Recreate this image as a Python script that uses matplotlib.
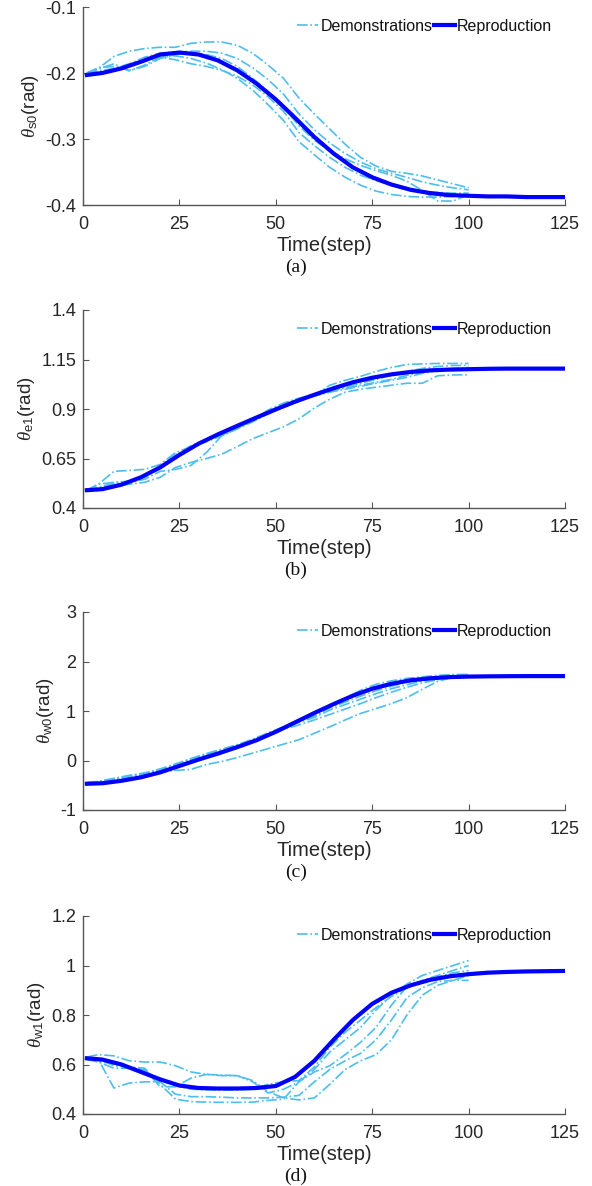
import matplotlib
matplotlib.use("Agg")
import matplotlib.pyplot as plt

plt.rcParams['font.family'] = ['Liberation Sans', 'DejaVu Sans']
plt.rcParams['axes.unicode_minus'] = False
plt.rcParams['mathtext.fontset'] = 'custom'
plt.rcParams['mathtext.rm'] = 'Liberation Sans'
plt.rcParams['mathtext.it'] = 'Liberation Serif:italic'

# ---------------- data ----------------
demo_steps = [1, 4, 8, 12, 16, 20, 24, 28, 32, 36, 40, 44, 48, 52, 56, 60, 64, 68, 72, 76, 80, 84, 88, 92, 96, 100]
repro_steps = [1, 5, 10, 15, 20, 25, 30, 35, 40, 45, 50, 55, 60, 65, 70, 75, 80, 85, 90, 95, 100, 105, 110, 115, 120, 125]

# (a) theta_s0
a_demo1 = [-0.200, -0.193, -0.175, -0.167, -0.163, -0.161, -0.161, -0.155, -0.153, -0.153, -0.158, -0.170, -0.188, -0.208, -0.238, -0.262, -0.285, -0.308, -0.328, -0.341, -0.349, -0.352, -0.356, -0.362, -0.368, -0.374]
a_demo2 = [-0.200, -0.197, -0.193, -0.186, -0.176, -0.170, -0.168, -0.167, -0.167, -0.170, -0.178, -0.192, -0.210, -0.232, -0.262, -0.286, -0.306, -0.322, -0.335, -0.345, -0.352, -0.358, -0.365, -0.370, -0.374, -0.377]
a_demo3 = [-0.200, -0.192, -0.190, -0.196, -0.190, -0.178, -0.172, -0.170, -0.172, -0.178, -0.190, -0.208, -0.228, -0.252, -0.280, -0.302, -0.318, -0.330, -0.340, -0.348, -0.355, -0.364, -0.378, -0.394, -0.394, -0.384]
a_demo4 = [-0.200, -0.194, -0.186, -0.197, -0.188, -0.176, -0.180, -0.186, -0.190, -0.196, -0.205, -0.218, -0.236, -0.258, -0.290, -0.310, -0.328, -0.343, -0.355, -0.363, -0.370, -0.375, -0.379, -0.381, -0.382, -0.382]
a_demo5 = [-0.200, -0.199, -0.195, -0.189, -0.182, -0.176, -0.174, -0.178, -0.185, -0.195, -0.208, -0.226, -0.248, -0.272, -0.304, -0.324, -0.343, -0.358, -0.370, -0.379, -0.384, -0.387, -0.388, -0.388, -0.387, -0.386]
a_repro = [-0.203, -0.200, -0.193, -0.183, -0.172, -0.169, -0.172, -0.181, -0.196, -0.216, -0.240, -0.268, -0.297, -0.322, -0.343, -0.358, -0.369, -0.377, -0.382, -0.385, -0.386, -0.387, -0.387, -0.388, -0.388, -0.388]

# (b) theta_e1
b_demo1 = [0.49, 0.52, 0.585, 0.59, 0.595, 0.62, 0.68, 0.71, 0.735, 0.765, 0.80, 0.835, 0.875, 0.91, 0.94, 0.97, 1.02, 1.045, 1.065, 1.09, 1.11, 1.125, 1.128, 1.13, 1.13, 1.13]
b_demo2 = [0.49, 0.495, 0.51, 0.52, 0.53, 0.555, 0.605, 0.63, 0.65, 0.672, 0.71, 0.75, 0.78, 0.81, 0.85, 0.905, 0.95, 0.985, 1.0, 1.01, 1.02, 1.03, 1.03, 1.068, 1.072, 1.073]
b_demo3 = [0.49, 0.50, 0.52, 0.53, 0.545, 0.585, 0.595, 0.615, 0.68, 0.765, 0.80, 0.84, 0.88, 0.915, 0.945, 0.965, 0.985, 1.0, 1.015, 1.03, 1.045, 1.06, 1.08, 1.095, 1.105, 1.11]
b_demo4 = [0.49, 0.52, 0.53, 0.535, 0.555, 0.60, 0.665, 0.715, 0.745, 0.775, 0.815, 0.85, 0.89, 0.925, 0.95, 0.97, 0.99, 1.005, 1.02, 1.035, 1.05, 1.07, 1.085, 1.095, 1.098, 1.098]
b_demo5 = [0.49, 0.505, 0.525, 0.535, 0.56, 0.615, 0.67, 0.705, 0.74, 0.77, 0.805, 0.845, 0.895, 0.93, 0.955, 0.975, 0.995, 1.01, 1.03, 1.05, 1.07, 1.09, 1.105, 1.115, 1.12, 1.12]
b_repro = [0.49, 0.495, 0.518, 0.555, 0.605, 0.668, 0.725, 0.772, 0.815, 0.857, 0.898, 0.937, 0.972, 1.005, 1.035, 1.058, 1.075, 1.087, 1.095, 1.099, 1.101, 1.103, 1.104, 1.104, 1.104, 1.104]

# (c) theta_w0
c_demo1 = [-0.45, -0.43, -0.37, -0.31, -0.26, -0.18, -0.08, 0.02, 0.12, 0.21, 0.30, 0.40, 0.53, 0.66, 0.80, 0.95, 1.10, 1.26, 1.42, 1.54, 1.61, 1.66, 1.69, 1.72, 1.735, 1.74]
c_demo2 = [-0.45, -0.44, -0.38, -0.32, -0.27, -0.19, -0.09, 0.03, 0.13, 0.22, 0.31, 0.42, 0.55, 0.67, 0.77, 0.87, 1.02, 1.13, 1.24, 1.35, 1.45, 1.53, 1.61, 1.66, 1.70, 1.72]
c_demo3 = [-0.46, -0.44, -0.39, -0.33, -0.28, -0.20, -0.10, 0.01, 0.11, 0.20, 0.29, 0.40, 0.52, 0.63, 0.72, 0.82, 0.93, 1.04, 1.15, 1.27, 1.38, 1.48, 1.57, 1.63, 1.68, 1.70]
c_demo4 = [-0.45, -0.42, -0.36, -0.30, -0.25, -0.17, -0.07, 0.04, 0.14, 0.23, 0.32, 0.43, 0.56, 0.68, 0.79, 0.90, 1.06, 1.18, 1.30, 1.41, 1.50, 1.58, 1.64, 1.68, 1.70, 1.71]
c_demo5 = [-0.45, -0.44, -0.38, -0.33, -0.28, -0.23, -0.20, -0.18, -0.08, -0.02, 0.06, 0.15, 0.24, 0.33, 0.42, 0.55, 0.68, 0.82, 0.95, 1.05, 1.15, 1.27, 1.44, 1.60, 1.68, 1.72]
c_repro = [-0.47, -0.46, -0.41, -0.34, -0.24, -0.11, 0.02, 0.14, 0.27, 0.41, 0.58, 0.77, 0.96, 1.14, 1.31, 1.45, 1.55, 1.62, 1.66, 1.685, 1.695, 1.70, 1.703, 1.705, 1.705, 1.705]

# (d) theta_w1
d_demo1 = [0.63, 0.64, 0.635, 0.615, 0.61, 0.61, 0.595, 0.57, 0.56, 0.557, 0.555, 0.535, 0.49, 0.465, 0.457, 0.465, 0.52, 0.58, 0.615, 0.64, 0.70, 0.80, 0.88, 0.92, 0.94, 0.96]
d_demo2 = [0.63, 0.62, 0.505, 0.525, 0.53, 0.53, 0.48, 0.47, 0.47, 0.468, 0.465, 0.465, 0.465, 0.468, 0.475, 0.53, 0.58, 0.615, 0.645, 0.70, 0.78, 0.87, 0.91, 0.935, 0.94, 0.94]
d_demo3 = [0.63, 0.625, 0.595, 0.59, 0.585, 0.52, 0.46, 0.45, 0.448, 0.447, 0.447, 0.448, 0.455, 0.46, 0.53, 0.57, 0.595, 0.64, 0.69, 0.75, 0.84, 0.915, 0.94, 0.96, 0.98, 1.0]
d_demo4 = [0.625, 0.615, 0.60, 0.59, 0.575, 0.54, 0.515, 0.50, 0.498, 0.497, 0.497, 0.50, 0.52, 0.53, 0.535, 0.59, 0.67, 0.73, 0.78, 0.83, 0.875, 0.91, 0.935, 0.955, 0.97, 0.98]
d_demo5 = [0.62, 0.61, 0.585, 0.585, 0.58, 0.51, 0.51, 0.545, 0.56, 0.555, 0.555, 0.53, 0.485, 0.50, 0.53, 0.58, 0.65, 0.70, 0.75, 0.82, 0.88, 0.925, 0.96, 0.98, 1.0, 1.02]
d_repro = [0.625, 0.62, 0.60, 0.57, 0.54, 0.515, 0.505, 0.503, 0.503, 0.505, 0.513, 0.55, 0.615, 0.70, 0.78, 0.845, 0.89, 0.92, 0.942, 0.956, 0.965, 0.971, 0.974, 0.976, 0.977, 0.978]

panels = [
    dict(demos=[a_demo1, a_demo2, a_demo3, a_demo4, a_demo5], repro=a_repro,
         ylim=(-0.4, -0.1), yticks=[-0.4, -0.3, -0.2, -0.1], yticklabels=['-0.4', '-0.3', '-0.2', '-0.1'],
         ylabel=r'$\theta_{\mathrm{s0}}$(rad)', caption='(a)'),
    dict(demos=[b_demo1, b_demo2, b_demo3, b_demo4, b_demo5], repro=b_repro,
         ylim=(0.4, 1.4), yticks=[0.4, 0.65, 0.9, 1.15, 1.4], yticklabels=['0.4', '0.65', '0.9', '1.15', '1.4'],
         ylabel=r'$\theta_{\mathrm{e1}}$(rad)', caption='(b)'),
    dict(demos=[c_demo1, c_demo2, c_demo3, c_demo4, c_demo5], repro=c_repro,
         ylim=(-1, 3), yticks=[-1, 0, 1, 2, 3], yticklabels=['-1', '0', '1', '2', '3'],
         ylabel=r'$\theta_{\mathrm{w0}}$(rad)', caption='(c)'),
    dict(demos=[d_demo1, d_demo2, d_demo3, d_demo4, d_demo5], repro=d_repro,
         ylim=(0.4, 1.2), yticks=[0.4, 0.6, 0.8, 1.0, 1.2], yticklabels=['0.4', '0.6', '0.8', '1', '1.2'],
         ylabel=r'$\theta_{\mathrm{w1}}$(rad)', caption='(d)'),
]
xticks = [0, 25, 50, 75, 100, 125]

# ---------------- layout ----------------
W, H = 592, 1186
fig = plt.figure(figsize=(W / 100, H / 100), dpi=100)
left_px, right_px = 83, 565
tops_px = [7, 310, 612, 916]
ax_h_px = 198

demo_color = '#4DBEEE'
repro_color = '#0000FF'
axis_color = '#262626'

for p, top in zip(panels, tops_px):
    bottom = H - top - ax_h_px
    ax = fig.add_axes([left_px / W, bottom / H, (right_px - left_px) / W, ax_h_px / H])
    for i, d in enumerate(p['demos']):
        ax.plot(demo_steps, d, linestyle='-.', color=demo_color, lw=1.2,
                label='Demonstrations' if i == 0 else None)
    ax.plot(repro_steps, p['repro'], color=repro_color, lw=3.0, label='Reproduction')
    ax.set_xlim(0, 125)
    ax.set_ylim(*p['ylim'])
    ax.set_xticks(xticks)
    ax.set_xticklabels([str(t) for t in xticks])
    ax.set_yticks(p['yticks'])
    ax.set_yticklabels(p['yticklabels'])
    for s in ['top', 'right']:
        ax.spines[s].set_visible(False)
    for s in ['left', 'bottom']:
        ax.spines[s].set_color('#555555')
        ax.spines[s].set_linewidth(1.0)
    ax.tick_params(direction='in', length=4, width=0.8, colors='#555555',
                   labelcolor=axis_color, labelsize=13)
    ax.tick_params(axis='x', pad=8)
    ax.tick_params(axis='y', pad=5)
    ax.set_xlabel('Time(step)', fontsize=14.5, color=axis_color, labelpad=2)
    ax.set_ylabel(p['ylabel'], fontsize=13.5, color=axis_color, labelpad=3)
    leg = ax.legend(loc='upper right', ncol=2, frameon=False, fontsize=11.5,
                    handlelength=1.3, handletextpad=0.15, columnspacing=0.1,
                    borderaxespad=0.1, bbox_to_anchor=(0.99, 0.98))
    for t in leg.get_texts():
        t.set_color('#111111')
    fig.text(296 / W, 1 - (top + ax_h_px + 62) / H, p['caption'], ha='center', va='center',
             fontsize=14, family=['Liberation Serif', 'DejaVu Serif'], color='#111111')

fig.savefig('out.png', dpi=100)
